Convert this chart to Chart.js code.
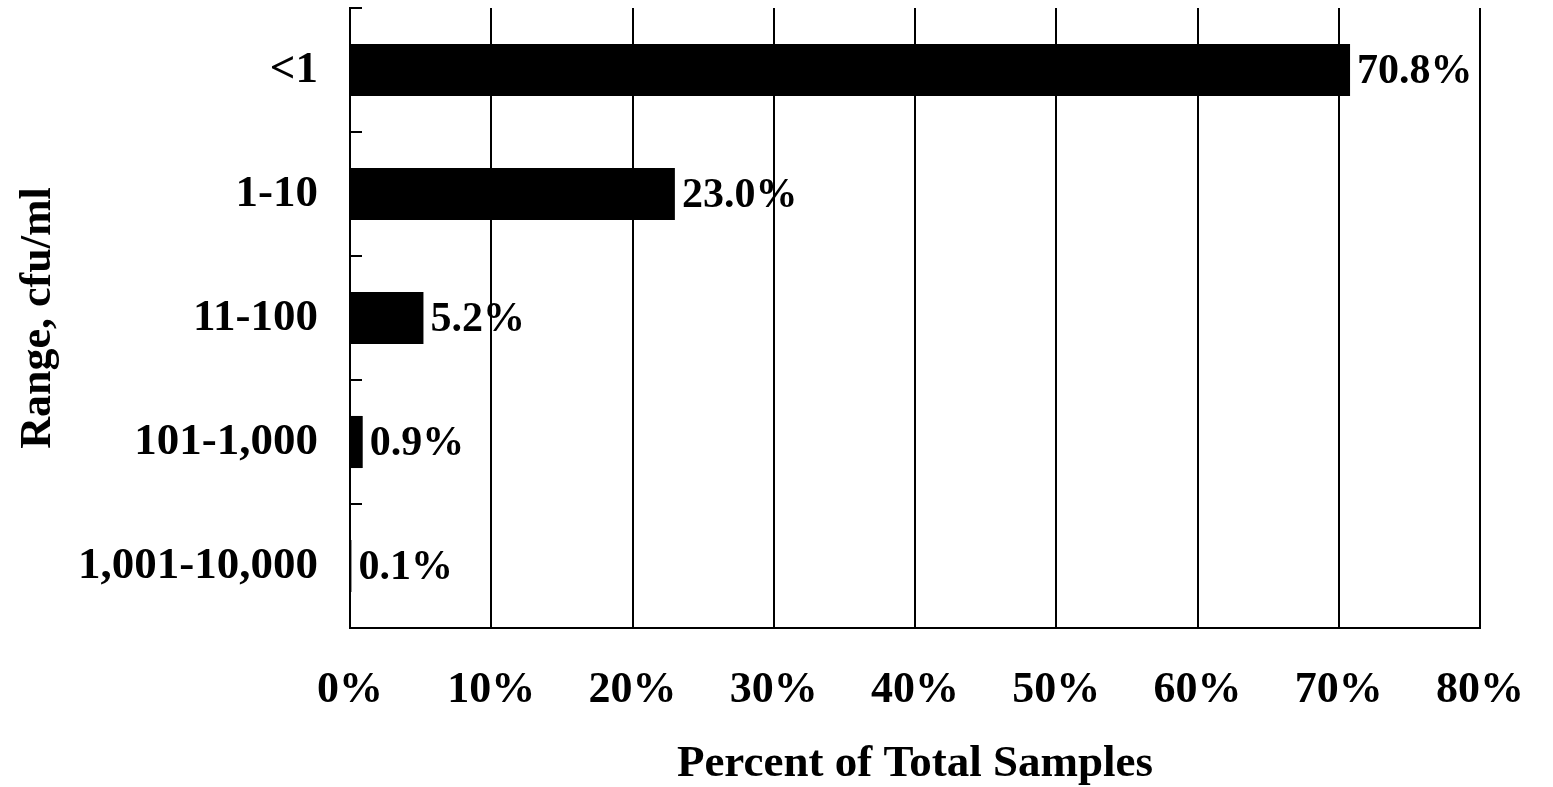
<!DOCTYPE html>
<html>
<head>
<meta charset="utf-8">
<script src="https://cdn.jsdelivr.net/npm/chart.js@4/dist/chart.umd.min.js"></script>
<style>
  html, body { margin: 0; padding: 0; background: #fff; }
  #wrap { width: 1553px; height: 787px; position: relative; }
</style>
</head>
<body>
<div id="wrap"><canvas id="chart"></canvas></div>
<script>
// data
var ranges = ['<1', '1-10', '11-100', '101-1,000', '1,001-10,000'];
var percents = [70.8, 23.0, 5.2, 0.9, 0.1];
var xTicks = [0, 10, 20, 30, 40, 50, 60, 70, 80];

var serif = '"Liberation Serif", "Times New Roman", serif';

// value labels at the end of each bar
var barLabels = {
    id: 'barLabels',
    afterDatasetsDraw: function(chart) {
        var ctx = chart.ctx;
        var meta = chart.getDatasetMeta(0);
        ctx.save();
        ctx.font = 'bold 42px ' + serif;
        ctx.fillStyle = '#000';
        ctx.textAlign = 'left';
        ctx.textBaseline = 'middle';
        meta.data.forEach(function(bar, i) {
            ctx.fillText(percents[i].toFixed(1) + '%', bar.x + 7, bar.y + 2);
        });
        ctx.restore();
    }
};

// short inward tick marks on the category axis
var innerTicks = {
    id: 'innerTicks',
    afterDraw: function(chart) {
        var ctx = chart.ctx;
        var y = chart.scales.y;
        var left = chart.chartArea.left;
        ctx.save();
        ctx.strokeStyle = '#000';
        ctx.lineWidth = 2;
        for (var i = 0; i < ranges.length; i++) {
            var py = Math.round(y.getPixelForValue(i - 0.5));
            ctx.beginPath();
            ctx.moveTo(left, py);
            ctx.lineTo(left + 12, py);
            ctx.stroke();
        }
        ctx.restore();
    }
};

new Chart(document.getElementById('chart').getContext('2d'), {
    type: 'bar',
    data: {
        labels: ranges,
        datasets: [{
            data: percents,
            backgroundColor: '#000',
            borderWidth: 0,
            barPercentage: 0.84,
            categoryPercentage: 0.5
        }]
    },
    options: {
        indexAxis: 'y',
        responsive: true,
        maintainAspectRatio: false,
        animation: false,
        layout: { padding: { top: 8, right: 73, left: 0, bottom: 0 } },
        plugins: {
            legend: { display: false },
            tooltip: { enabled: false }
        },
        scales: {
            x: {
                min: 0,
                max: 80,
                afterBuildTicks: function(scale) {
                    scale.ticks = xTicks.map(function(v) { return { value: v }; });
                },
                afterFit: function(scale) {
                    scale.paddingLeft = 0;
                    scale.paddingRight = 0;
                    scale.height = 159;
                },
                ticks: {
                    color: '#000',
                    padding: 36,
                    font: { family: serif, size: 44, weight: 'bold' },
                    callback: function(v) { return v + '%'; }
                },
                grid: {
                    color: '#000',
                    lineWidth: 2,
                    drawTicks: false
                },
                border: { display: true, color: '#000', width: 2 },
                title: {
                    display: true,
                    text: 'Percent of Total Samples',
                    color: '#000',
                    padding: { top: 24, bottom: 0 },
                    font: { family: serif, size: 45, weight: 'bold', lineHeight: 1.0 }
                }
            },
            y: {
                afterFit: function(scale) {
                    scale.paddingTop = 0;
                    scale.paddingBottom = 0;
                    scale.width = 350;
                },
                ticks: {
                    color: '#000',
                    padding: 32,
                    font: { family: serif, size: 45, weight: 'bold' }
                },
                grid: { display: false, drawTicks: false },
                border: { display: true, color: '#000', width: 2 },
                title: {
                    display: true,
                    text: 'Range, cfu/ml',
                    color: '#000',
                    padding: { top: 12, bottom: 0 },
                    font: { family: serif, size: 44, weight: 'bold' }
                }
            }
        }
    },
    plugins: [barLabels, innerTicks]
});
</script>
</body>
</html>
